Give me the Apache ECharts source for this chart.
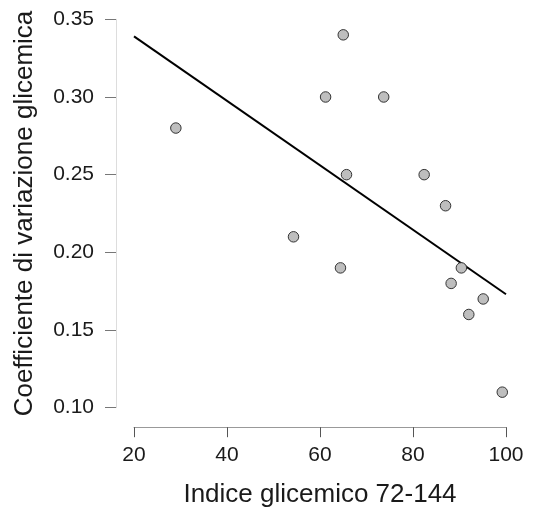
<!DOCTYPE html>
<html>
<head>
<meta charset="utf-8">
<script src="https://cdn.jsdelivr.net/npm/echarts@6/dist/echarts.min.js"></script>
<style>
html,body{margin:0;padding:0;background:#fff;}
#chart{width:533px;height:515px;}
</style>
</head>
<body>
<div id="chart"></div>
<script>
var xValues = [65.0, 61.2, 73.7, 29.0, 65.7, 82.4, 87.0, 54.3, 64.4, 90.4, 88.2, 95.1, 92.0, 99.2];
var yValues = [0.34, 0.30, 0.30, 0.28, 0.25, 0.25, 0.23, 0.21, 0.19, 0.19, 0.18, 0.17, 0.16, 0.11];
var fitX = [20, 100];
var fitY = [0.339, 0.173];
var xTicks = [20, 40, 60, 80, 100];
var yTicks = [0.10, 0.15, 0.20, 0.25, 0.30, 0.35];

var points = xValues.map(function (x, i) { return [x, yValues[i]]; });
var fitLine = fitX.map(function (x, i) { return [x, fitY[i]]; });

var chart = echarts.init(document.getElementById('chart'));
var font = 'Liberation Sans, Arial, sans-serif';
chart.setOption({
  animation: false,
  grid: { left: 134, right: 27, top: 19.3, bottom: 107.3 },
  xAxis: {
    type: 'value', min: 20, max: 100, interval: 20, offset: 19.5,
    name: 'Indice glicemico 72-144', nameLocation: 'middle', nameGap: 55,
    nameTextStyle: { fontFamily: font, fontSize: 26, color: '#1a1a1a' },
    axisLine: { show: true, lineStyle: { color: '#999', width: 1 } },
    axisTick: { show: true, length: 10, lineStyle: { color: '#555' } },
    axisLabel: { fontFamily: font, fontSize: 21, color: '#1a1a1a', margin: 18,
      formatter: function (v) { return xTicks.indexOf(v) >= 0 ? String(v) : ''; } },
    splitLine: { show: false }
  },
  yAxis: {
    type: 'value', min: 0.10, max: 0.35, interval: 0.05, offset: 18,
    name: 'Coefficiente di variazione glicemica', nameLocation: 'middle', nameGap: 78,
    nameTextStyle: { fontFamily: font, fontSize: 26, color: '#1a1a1a' },
    axisLine: { show: true, lineStyle: { color: '#ddd', width: 1 } },
    axisTick: { show: true, length: 11, lineStyle: { color: '#777' } },
    axisLabel: { fontFamily: font, fontSize: 21, color: '#1a1a1a', margin: 22,
      formatter: function (v) { return v.toFixed(2); } },
    splitLine: { show: false }
  },
  series: [
    {
      type: 'line', data: fitLine, showSymbol: false, symbol: 'none',
      lineStyle: { color: '#000', width: 2 }, z: 2
    },
    {
      type: 'scatter', data: points, symbol: 'circle', symbolSize: 10.5,
      itemStyle: { color: '#bebebe', borderColor: '#333', borderWidth: 1, opacity: 1 }, z: 3
    }
  ]
});
</script>
</body>
</html>
